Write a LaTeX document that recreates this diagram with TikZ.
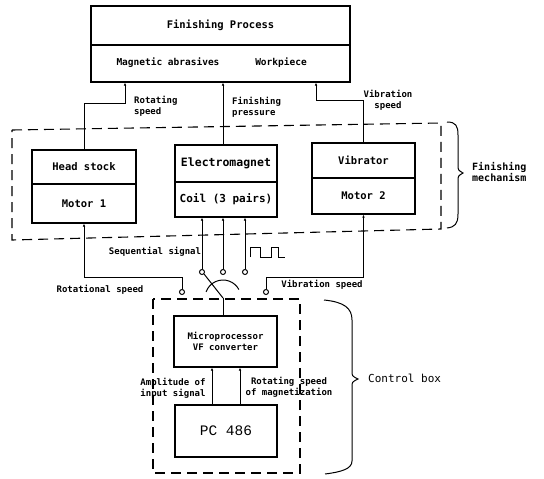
\documentclass[tikz,border=0pt]{standalone}
\usepackage{fontspec}
\newfontfamily\monob{DejaVu Sans Mono}
\newfontfamily\courf{Liberation Mono}
\usetikzlibrary{arrows.meta}
\begin{document}
\begin{tikzpicture}[x=1pt,y=-1pt,
  box/.style={draw, line width=1.3pt, inner sep=0pt, align=center},
  bfont/.style={font=\monob\bfseries\fontsize{10.5}{12}\selectfont},
  lbl/.style={font=\monob\bfseries\fontsize{9}{11}\selectfont, align=center, inner sep=0pt},
  conn/.style={line width=1pt},
  arr/.style={conn, -{Latex[length=3pt,width=2.6pt]}},
  dsh/.style={line width=1.1pt, dash pattern=on 10pt off 6pt},
  term/.style={circle, draw, line width=1pt, inner sep=0pt, minimum size=5pt, fill=white}]
\useasboundingbox (0,0) rectangle (544,479);

% Finishing process
\node[box, bfont, minimum width=259pt, minimum height=39pt] (fp1) at (220.5,25.5) {Finishing Process};
\node[box, minimum width=259pt, minimum height=37pt] (fp2) at (220.5,63.5) {};
\node[lbl, font=\monob\bfseries\fontsize{9.5}{11}\selectfont] (mag) at (168,63) {Magnetic abrasives};
\node[lbl, font=\monob\bfseries\fontsize{9.5}{11}\selectfont] (wp) at (281,63) {Workpiece};

% Finishing mechanism boxes
\node[box, bfont, minimum width=104pt, minimum height=34pt] (hs1) at (84,167) {Head stock};
\node[box, bfont, minimum width=104pt, minimum height=39pt] (hs2) at (84,203.5) {Motor 1};
\node[box, font=\monob\bfseries\fontsize{11.5}{13}\selectfont, minimum width=102pt, minimum height=37pt] (em1) at (226,163.5) {Electromagnet};
\node[box, font=\monob\bfseries\fontsize{11}{13}\selectfont, minimum width=102pt, minimum height=35pt] (em2) at (226,199.5) {Coil (3 pairs)};
\node[box, bfont, minimum width=103pt, minimum height=35pt] (vb1) at (363.5,160.5) {Vibrator};
\node[box, bfont, minimum width=103pt, minimum height=36pt] (vb2) at (363.5,196) {Motor 2};

% Control box
\node[box, font=\monob\bfseries\fontsize{9}{11}\selectfont, minimum width=103pt, minimum height=51pt] (mp) at (225.5,341.5) {Microprocessor\\VF converter};
\node[box, font=\courf\fontsize{14.5}{16}\selectfont, minimum width=102pt, minimum height=52pt] (pc) at (226,431) {PC 486};

% terminals
\node[term] (cr) at (182,292) {};
\node[term] (cv) at (266,292) {};
\node[term] (s1) at (202,272) {};
\node[term] (s2) at (223,272) {};
\node[term] (s3) at (245,272) {};
\coordinate (pv) at (223,298);

% dashed groups
\draw[dsh] (12,130) -- (441,123) -- (441,229) -- (12,240) -- cycle;
\draw[dsh] (153,299) rectangle (300,473);

% connectors to finishing process
\draw[arr] (hs1.north) |- (125,103) -- (125,103 |- fp2.south);
\draw[arr] (223,0 |- em1.north) -- (223,0 |- fp2.south);
\draw[arr] (vb1.north) |- (316,100) -- (316,0 |- fp2.south);

% signals to mechanism
\draw[arr] (cr.north) |- (84,277) -- (hs2.south);
\draw[arr] (cv.north) |- (363.5,277) -- (vb2.south);
\draw[arr] (s1.north) -- (s1.north |- em2.south);
\draw[arr] (s2.north) -- (s2.north |- em2.south);
\draw[arr] (s3.north) -- (s3.north |- em2.south);

% switch
\draw[conn] (s1.south east) -- (pv);
\draw[conn] (pv) ++(-160:18) arc[start angle=-160, end angle=-28, radius=18];
\draw[conn] (pv) -- (pv |- mp.north);

% PC to microprocessor
\draw[arr] (212,0 |- pc.north) -- (212,0 |- mp.south);
\draw[arr] (240,0 |- pc.north) -- (240,0 |- mp.south);

% square wave
\draw[conn] (250,257) -- ++(0,-10) -- ++(10,0) -- ++(0,10) -- ++(11,0) -- ++(0,-10) -- ++(7,0) -- ++(0,10) -- ++(7,0);

% braces
\draw[conn] (447,122) .. controls (456,122) and (458,126) .. (458,135) -- (458,165) .. controls (458,170) .. (463,173) .. controls (458,176) .. (458,181) -- (458,214) .. controls (458,224) and (455,227) .. (447,228);
\draw[conn] (324,300) .. controls (344,302) and (352,308) .. (352,320) -- (352,371) .. controls (352,376) .. (358,379) .. controls (352,382) .. (352,387) -- (352,461) .. controls (352,469) and (341,472) .. (325,474);

% labels
\node[lbl, align=left, anchor=west] (l1) at (134,106.5) {Rotating\\speed};
\node[lbl, align=left, anchor=west] (l2) at (232,107.5) {Finishing\\pressure};
\node[lbl] (l3) at (388,100) {Vibration\\speed};
\node[lbl, font=\monob\bfseries\fontsize{10}{11}\selectfont, align=left, anchor=west] (l4) at (472,172.5) {Finishing\\mechanism};
\node[lbl] (l5) at (155,252) {Sequential signal};
\node[lbl] (l6) at (100,290) {Rotational speed};
\node[lbl] (l7) at (322,285) {Vibration speed};
\node[lbl] (l8) at (173,388) {Amplitude of\\input signal};
\node[lbl] (l9) at (289,387) {Rotating speed\\of magnetization};
\node[font=\monob\fontsize{11}{13}\selectfont, anchor=west, inner sep=0pt] (l10) at (368,378) {Control box};
\end{tikzpicture}
\end{document}
